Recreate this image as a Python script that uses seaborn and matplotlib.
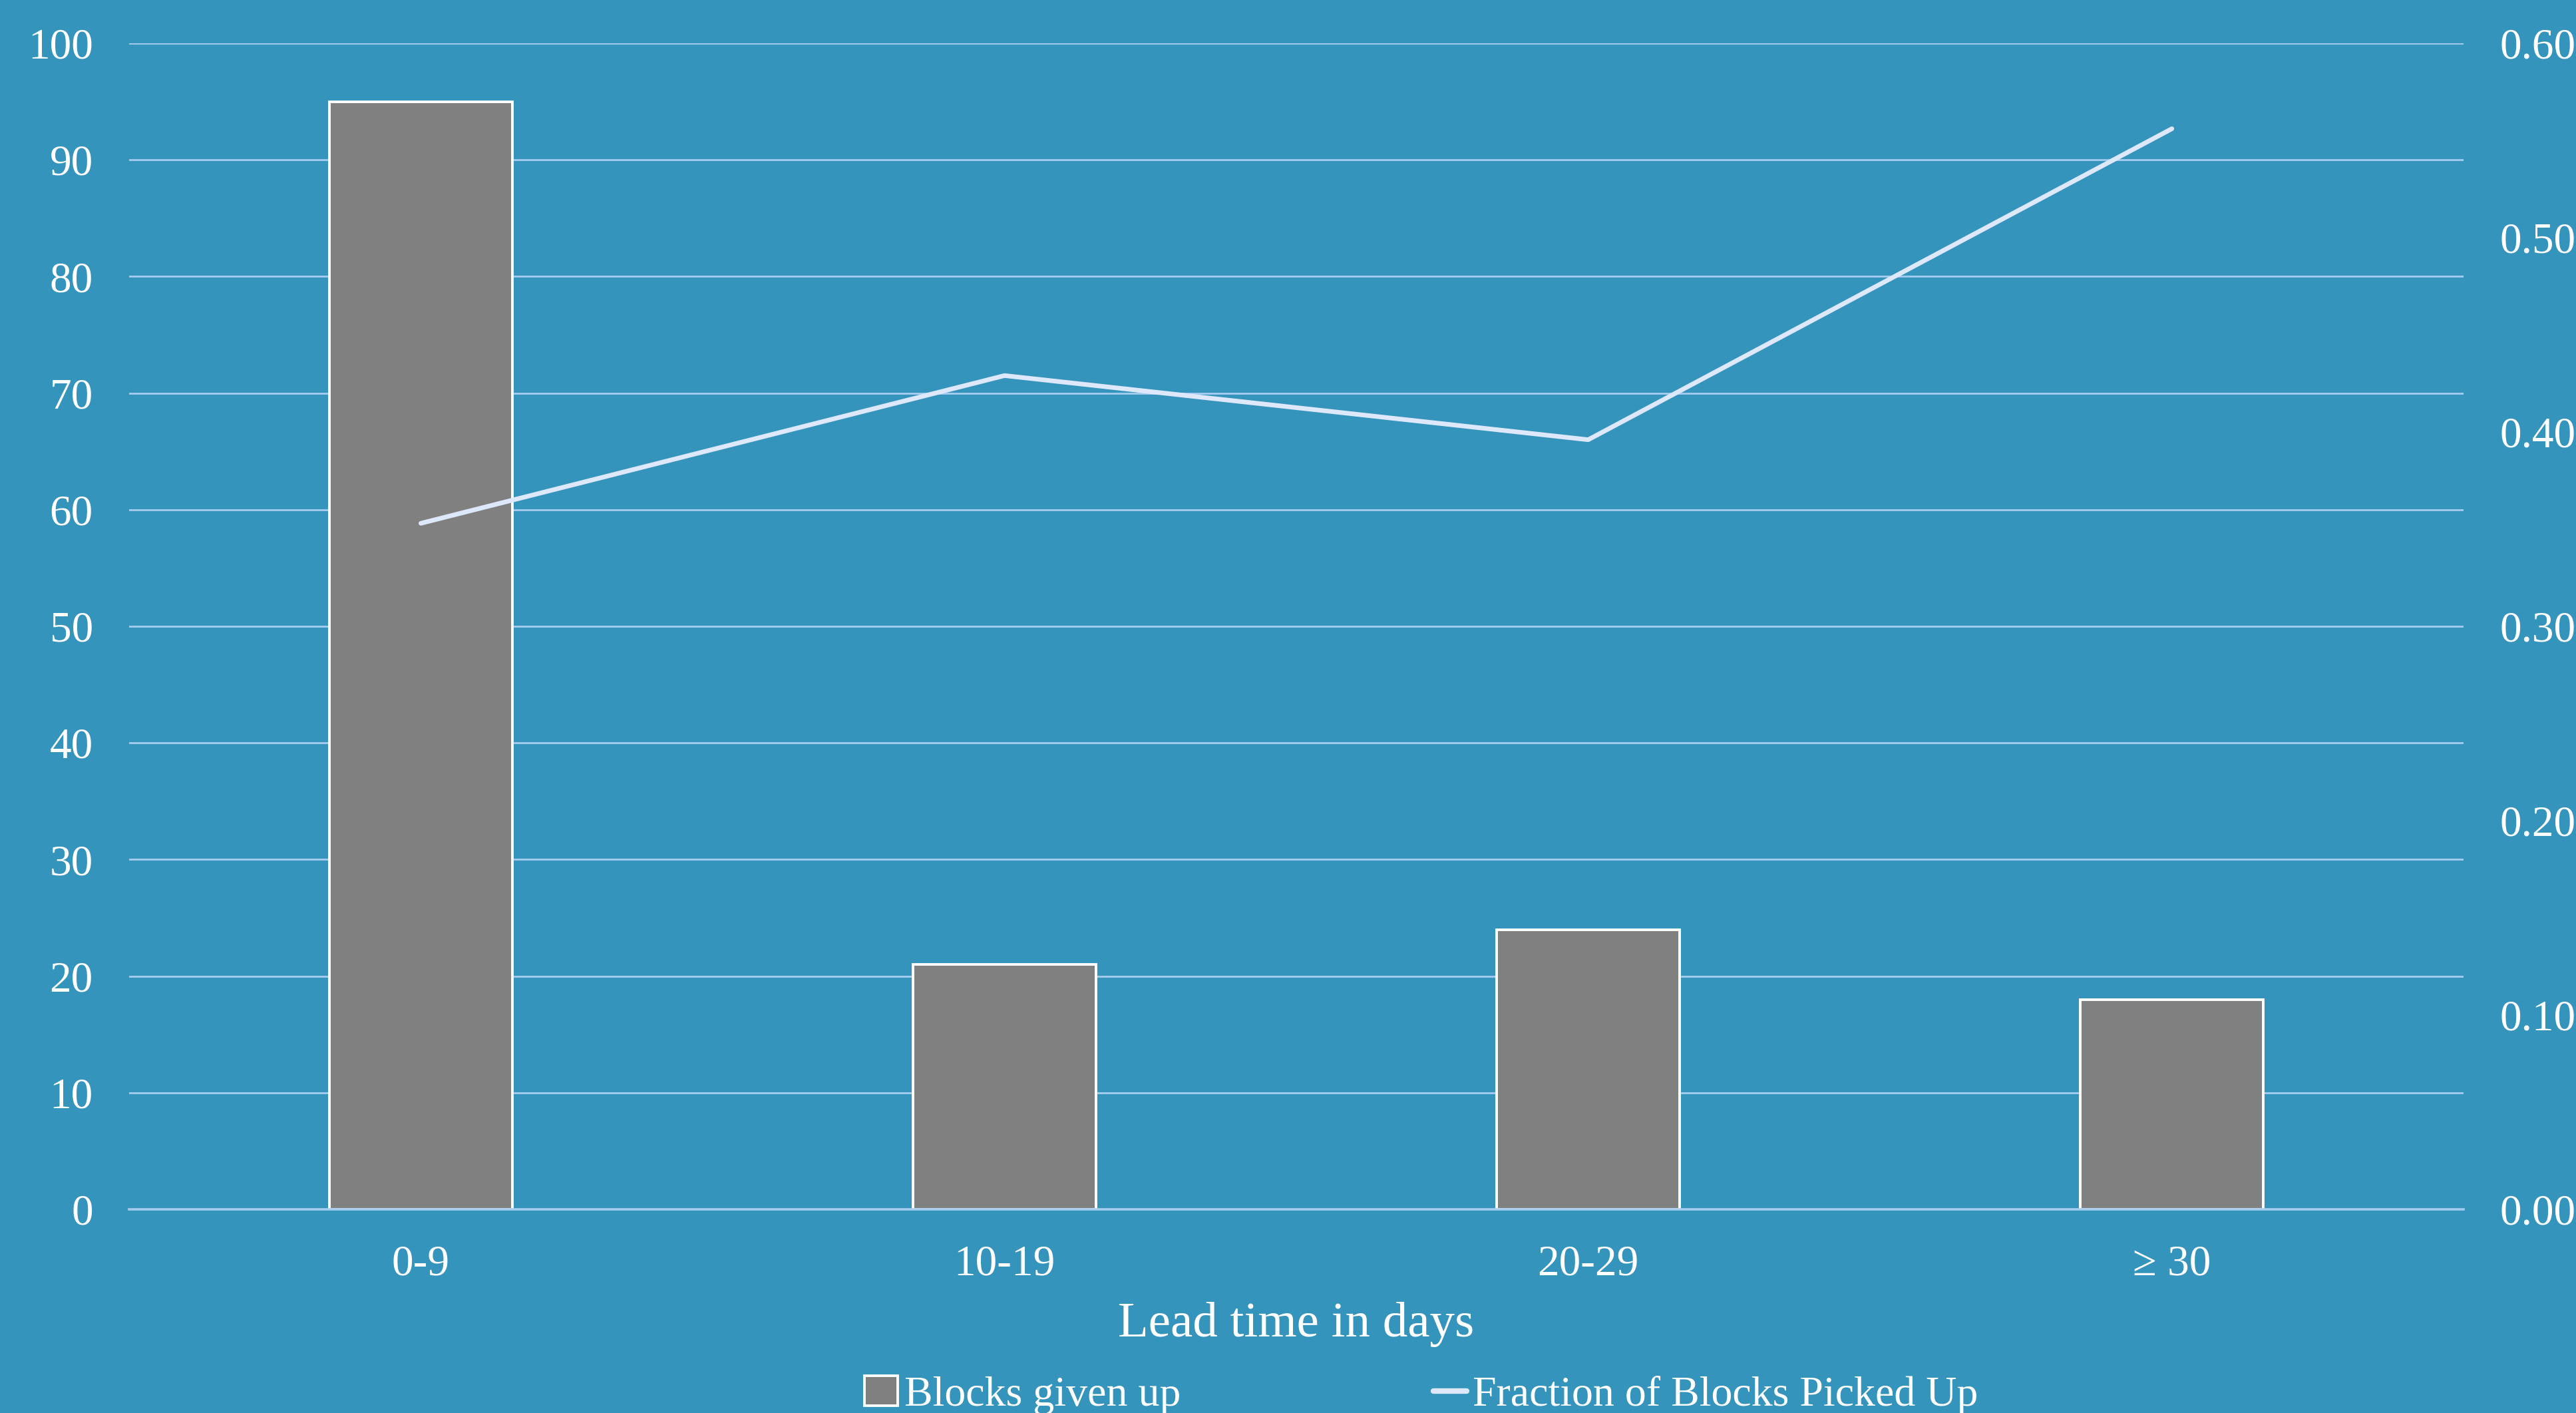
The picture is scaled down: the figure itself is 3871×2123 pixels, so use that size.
import numpy as np
import pandas as pd
import matplotlib
matplotlib.use("Agg")
import matplotlib.pyplot as plt
from matplotlib.patches import Patch
from matplotlib.lines import Line2D
from matplotlib.ticker import FormatStrFormatter, MultipleLocator
import seaborn as sns

# Data
categories = ["0-9", "10-19", "20-29", "\u2265 30"]
blocks_given_up = [95, 21, 24, 18]
fraction_picked_up = [0.353, 0.429, 0.396, 0.556]

BG = "#3594BB"
GRID = "#A6CDEF"
BAR = "#808080"
LINE = "#DEE8FB"
TXT = "white"

sns.set_theme(style="white")
plt.rcParams["font.family"] = ["Liberation Serif", "DejaVu Serif"]

W, H, DPI = 3871, 2123, 200
fig = plt.figure(figsize=(W / DPI, H / DPI), dpi=DPI, facecolor=BG)
ax = fig.add_axes([0.0501, 0.1441, 0.9063, 0.8253])
ax.set_facecolor(BG)

df = pd.DataFrame({"cat": categories, "blocks": blocks_given_up})
sns.barplot(data=df, x="cat", y="blocks", ax=ax, color=BAR, width=0.313,
            edgecolor="white", linewidth=1.4, saturation=1, zorder=2)

ax.set_xlim(-0.5, len(categories) - 0.5)
ax.set_ylim(0, 100)
ax.yaxis.set_major_locator(MultipleLocator(10))
ax.set_axisbelow(True)
ax.grid(axis="y", color=GRID, linewidth=1.0, zorder=0)
ax.grid(axis="x", visible=False)
for s in ["top", "left", "right"]:
    ax.spines[s].set_visible(False)
ax.spines["bottom"].set_color(GRID)
ax.spines["bottom"].set_linewidth(1.3)
ax.spines["bottom"].set_zorder(3)
ax.tick_params(axis="both", length=0, colors=TXT, labelsize=23.5)
ax.tick_params(axis="y", pad=19.5)
ax.tick_params(axis="x", pad=19)
ax.set_ylabel("")
ax.set_xlabel("Lead time in days", color=TXT, fontsize=27, labelpad=9.5)

# Secondary axis for the fraction line
ax2 = ax.twinx()
ax2.patch.set_visible(False)
sns.lineplot(x=np.arange(len(categories)), y=fraction_picked_up, ax=ax2,
             color=LINE, linewidth=2.5, solid_capstyle="round", zorder=4)
ax2.set_ylim(0, 0.6)
ax2.yaxis.set_major_locator(MultipleLocator(0.1))
ax2.yaxis.set_major_formatter(FormatStrFormatter("%.2f"))
ax2.tick_params(axis="y", length=0, colors=TXT, labelsize=23.5, pad=19.5)
ax2.grid(False)
for s in ax2.spines.values():
    s.set_visible(False)

handles = [
    Patch(facecolor=BAR, edgecolor="white", linewidth=1.4),
    Line2D([0], [0], color=LINE, linewidth=3.0),
]
labels = ["Blocks given up", "Fraction of Blocks Picked Up"]
leg = fig.legend(handles, labels, loc="center left", bbox_to_anchor=(0.3356, 0.0125),
                 ncol=2, frameon=False, fontsize=23, handlelength=0.78,
                 handleheight=0.7, handletextpad=0.15, columnspacing=5.95,
                 borderpad=0, borderaxespad=0)
for t in leg.get_texts():
    t.set_color(TXT)

fig.savefig("out.png", dpi=DPI, facecolor=BG)
